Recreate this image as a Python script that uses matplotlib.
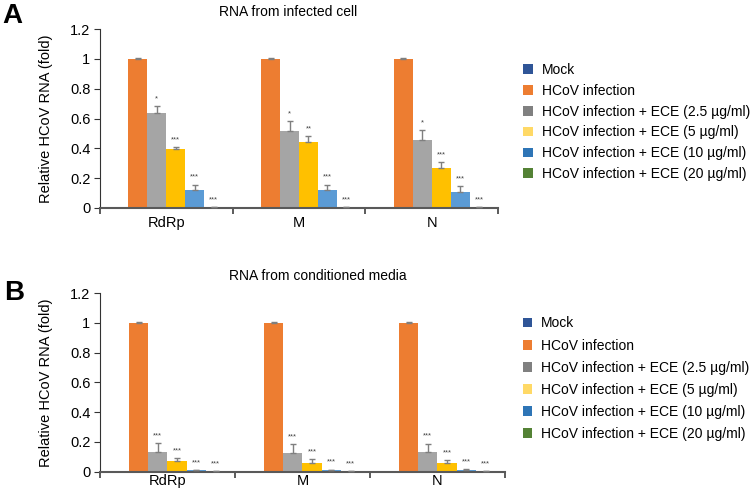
import matplotlib
matplotlib.use("Agg")
import matplotlib.pyplot as plt
from matplotlib.patches import Patch
import numpy as np

plt.rcParams['font.family'] = ['Liberation Sans', 'DejaVu Sans']

genes = ['RdRp', 'M', 'N']
series = ['Mock', 'HCoV infection', 'HCoV infection + ECE (2.5 µg/ml)',
          'HCoV infection + ECE (5 µg/ml)', 'HCoV infection + ECE (10 µg/ml)',
          'HCoV infection + ECE (20 µg/ml)']
bar_colors = ['#2F5597', '#ED7D31', '#A5A5A5', '#FFC000', '#5B9BD5', '#70AD47']
legend_colors = ['#2F5597', '#ED7D31', '#808080', '#FFD966', '#2E75B6', '#548235']

# panel A: RNA from infected cell (rows = series, cols = RdRp, M, N)
vals_a = [[0, 0, 0],
          [1.0, 1.0, 1.0],
          [0.635, 0.519, 0.459],
          [0.399, 0.44, 0.268],
          [0.123, 0.121, 0.11],
          [0.006, 0.005, 0.004]]
err_a = [[0, 0, 0],
         [0.003, 0.003, 0.003],
         [0.047, 0.067, 0.065],
         [0.011, 0.045, 0.04],
         [0.034, 0.036, 0.04],
         [0.002, 0.002, 0.002]]
stars_a = [['', '', ''], ['', '', ''], ['*', '*', '*'],
           ['***', '**', '***'], ['***', '***', '***'], ['***', '***', '***']]

# panel B: RNA from conditioned media
vals_b = [[0, 0, 0],
          [1.0, 1.0, 1.0],
          [0.132, 0.127, 0.13],
          [0.069, 0.056, 0.056],
          [0.007, 0.009, 0.011],
          [0.001, 0.001, 0.001]]
err_b = [[0, 0, 0],
         [0.003, 0.003, 0.003],
         [0.06, 0.056, 0.058],
         [0.023, 0.025, 0.02],
         [0.003, 0.004, 0.005],
         [0.0, 0.0, 0.0]]
stars_b = [['', '', ''], ['', '', ''], ['***', '***', '***'],
           ['***', '***', '***'], ['***', '***', '***'], ['***', '***', '***']]

fig = plt.figure(figsize=(7.5, 4.97), dpi=100)


def draw_panel(ax, vals, errs, stars, legend_pos, spacing, xpad):
    x = np.arange(len(genes))
    w = 1 / 7
    for i in range(len(series)):
        pos = x + (i - 2.5) * w
        ax.bar(pos, vals[i], width=w, color=bar_colors[i], edgecolor='none', zorder=2)
        if i > 0:
            ax.errorbar(pos, vals[i], yerr=[np.zeros(3), errs[i]], fmt='none',
                        ecolor='#7F7F7F', elinewidth=1, capsize=2.5, capthick=1, zorder=3)
        for j in range(len(genes)):
            if stars[i][j]:
                ax.text(pos[j], vals[i][j] + errs[i][j] + 0.025, stars[i][j],
                        ha='center', va='bottom', fontsize=5.5, color='#404040')
    ax.set_xlim(-0.5, 2.5)
    ax.set_ylim(0, 1.2)
    ax.set_yticks(np.arange(0, 1.21, 0.2))
    ax.set_yticklabels(['0', '0.2', '0.4', '0.6', '0.8', '1', '1.2'], fontsize=10.5)
    ax.set_xticks(x)
    ax.set_xticklabels(genes, fontsize=10.5)
    ax.tick_params(axis='x', which='major', length=0, pad=xpad)
    ax.set_xticks([-0.5, 0.5, 1.5, 2.5], minor=True)
    ax.tick_params(axis='x', which='minor', length=4, width=1.2, color='#404040')
    ax.tick_params(axis='y', length=4, width=0.8, color='#333333', pad=3)
    ax.spines['top'].set_visible(False)
    ax.spines['right'].set_visible(False)
    ax.spines['left'].set_color('#333333')
    ax.spines['left'].set_linewidth(0.8)
    ax.spines['bottom'].set_color('#595959')
    ax.spines['bottom'].set_linewidth(1.5)
    ax.set_ylabel('Relative HCoV RNA (fold)', fontsize=10.5, labelpad=12)
    handles = [Patch(facecolor=c, edgecolor='none') for c in legend_colors]
    ax.legend(handles, series, loc='upper left', bbox_to_anchor=legend_pos,
              frameon=False, fontsize=10, handlelength=0.7, handleheight=0.7,
              handletextpad=0.6, labelspacing=spacing, borderaxespad=0)


ax_a = fig.add_axes([0.1333, 0.5815, 0.5307, 0.360])
draw_panel(ax_a, vals_a, err_a, stars_a, (1.05, 0.841), 0.49, 6)

ax_b = fig.add_axes([0.1333, 0.0513, 0.540, 0.359])
draw_panel(ax_b, vals_b, err_b, stars_b, (1.03, 0.90), 0.58, 2)

fig.text(288 / 750, 1 - 12 / 497, 'RNA from infected cell', ha='center', va='center', fontsize=10)
fig.text(318 / 750, 1 - 276 / 497, 'RNA from conditioned media', ha='center', va='center', fontsize=10)
fig.text(2 / 750, 1 - 16 / 497, 'A', ha='left', va='center', fontsize=20, fontweight='bold')
fig.text(4 / 750, 1 - 293 / 497, 'B', ha='left', va='center', fontsize=20, fontweight='bold')

fig.savefig('out.png', dpi=100)
